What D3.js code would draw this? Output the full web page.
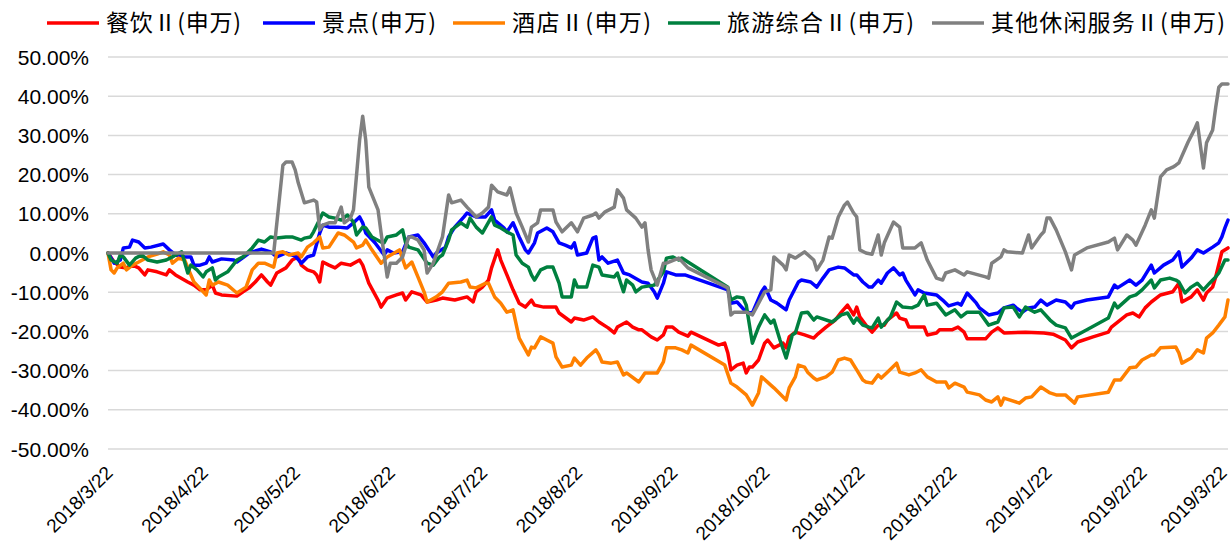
<!DOCTYPE html>
<html><head><meta charset="utf-8">
<script src="https://cdn.jsdelivr.net/npm/d3@7/dist/d3.min.js"></script>
<style>
html,body{margin:0;padding:0;background:#fff;}
svg{display:block;}
</style></head>
<body>
<svg id="chart" width="1231" height="549"></svg>
<script>
// ---------- DATA ----------
const startDate = "2018/3/22"; // day 0; day arrays below are days since this date
const xTickLabels = ["2018/3/22","2018/4/22","2018/5/22","2018/6/22","2018/7/22","2018/8/22","2018/9/22","2018/10/22","2018/11/22","2018/12/22","2019/1/22","2019/2/22","2019/3/22"];
const yTickValues = [50,40,30,20,10,0,-10,-20,-30,-40,-50];
const seriesNames = ["餐饮Ⅱ(申万)","景点(申万)","酒店Ⅱ(申万)","旅游综合Ⅱ(申万)","其他休闲服务Ⅱ(申万)"];
const seriesColors = ["#FF0000","#0000FF","#FF8000","#00803F","#808080"];

// 餐饮Ⅱ
const cateringDays = [0,2,4,6,8,10,12,13,16,19,20,22,26,28,30,32,34,35,37,42,44,46,48,50,52,53,55,58,60,62,63,65,67,68,69,70,72,74,76,79,82,83,85,88,89,91,94,96,97,99,102,104,107,109,113,117,119,120,122,124,125,127,128,130,132,134,136,138,139,142,146,147,151,152,155,158,160,163,165,166,169,171,173,174,177,179,181,182,184,186,189,190,199,201,202,203,205,207,208,209,210,212,214,215,217,220,221,222,224,227,230,231,234,237,239,241,243,244,245,247,249,251,253,254,257,258,260,261,266,267,270,271,275,277,279,280,286,288,290,292,299,305,308,312,314,316,321,326,327,332,334,336,338,340,343,347,349,350,353,355,357,358,360,361,363,365];
const cateringPct = [0,-2.3,-3.6,-3.8,-3.1,-3.8,-5.6,-4.3,-4.8,-5.6,-4.3,-5.6,-7.4,-8.2,-9.4,-9.4,-8.2,-10.2,-10.7,-11.0,-9.9,-8.9,-7.4,-5.6,-7.4,-8.2,-5.1,-3.8,-1.8,-1.0,-3.1,-4.3,-4.8,-5.6,-7.4,-2.3,-3.1,-3.8,-2.6,-3.1,-1.8,-3.1,-7.7,-12.0,-13.8,-11.5,-10.7,-10.2,-12.0,-9.9,-10.7,-12.5,-12.0,-11.5,-12.0,-11.2,-12.5,-9.9,-8.7,-6.9,-3.8,0.8,-1.8,-5.6,-9.4,-12.8,-13.8,-12.0,-13.3,-13.8,-13.8,-15.3,-17.6,-16.6,-17.1,-16.3,-17.6,-19.1,-20.4,-18.9,-17.6,-18.9,-19.6,-19.6,-21.4,-22.2,-20.9,-18.9,-18.9,-20.2,-21.2,-20.2,-23.5,-23.0,-25.5,-29.8,-28.6,-28.1,-30.6,-29.1,-29.1,-27.3,-23.0,-22.2,-24.2,-23.0,-24.2,-21.4,-20.2,-20.9,-21.7,-20.9,-18.9,-17.1,-15.1,-13.3,-15.8,-13.8,-16.3,-18.4,-20.2,-18.4,-18.4,-17.1,-15.3,-16.6,-17.1,-18.9,-18.9,-20.9,-20.4,-19.6,-19.6,-18.9,-20.2,-21.9,-21.9,-20.2,-19.1,-20.4,-20.2,-20.4,-20.7,-22.2,-24.2,-22.7,-21.4,-20.2,-18.9,-15.8,-15.3,-16.3,-14.0,-12.5,-10.7,-9.9,-7.7,-12.5,-11.2,-9.4,-12.0,-10.2,-8.7,-6.1,0.3,1.3];

// 景点
const scenicDays = [0,2,4,5,7,8,10,12,14,18,20,22,25,27,28,30,32,33,34,37,41,42,46,50,53,55,58,61,63,65,67,69,70,72,75,78,80,82,83,84,87,90,91,93,96,98,101,103,106,107,110,111,113,116,117,120,123,125,126,129,130,132,134,136,137,139,140,143,145,147,149,151,152,153,156,158,159,160,161,163,166,168,170,174,176,178,179,181,182,185,188,202,203,205,208,210,213,214,215,216,218,221,222,225,226,229,231,233,235,238,240,243,244,246,248,249,251,252,254,256,258,259,260,263,264,266,270,272,274,277,278,280,283,284,287,290,292,295,296,298,300,302,304,306,309,312,314,315,319,326,328,329,333,335,337,340,341,344,347,349,350,353,355,357,360,362,363,364,365];
const scenicPct = [0,-2.6,-1.8,1.3,1.5,3.3,2.8,1.3,1.5,2.3,0.8,-0.5,-1.0,-1.0,-3.1,-3.1,-2.6,-1.0,-2.3,-1.5,-1.8,-2.3,0,1.0,0.3,-1.0,0,-0.8,-2.6,-1.0,-0.5,5.1,7.1,6.6,6.6,6.4,7.7,9.2,7.7,5.1,2.6,-0.5,0.8,0,0.3,4.1,4.6,2.6,-1.0,0,1.5,4.1,6.6,9.2,10.2,9.2,9.2,11.0,8.4,6.4,5.4,7.7,4.1,0.8,0,2.6,5.1,6.4,5.4,2.6,2.0,1.3,2.6,-0.5,0,3.8,4.1,-1.8,-1.0,-2.6,-1.8,-5.1,-5.6,-7.4,-7.7,-9.9,-11.5,-7.7,-4.8,-5.6,-5.6,-9.4,-12.8,-12.5,-15.1,-15.3,-9.9,-8.7,-10.2,-12.0,-12.8,-14.5,-12.0,-7.4,-6.9,-7.4,-8.7,-6.4,-4.3,-3.6,-3.8,-5.6,-5.6,-7.4,-8.7,-8.7,-6.9,-7.7,-5.1,-3.8,-5.6,-5.1,-6.9,-10.7,-9.4,-10.2,-10.7,-12.0,-13.5,-12.8,-13.3,-10.2,-12.8,-14.0,-15.8,-15.3,-14.0,-13.3,-14.0,-15.1,-14.0,-13.8,-12.0,-13.3,-12.0,-12.5,-14.0,-12.8,-12.0,-11.2,-8.2,-8.9,-6.9,-8.2,-6.9,-3.1,-5.1,-3.1,-1.8,0.3,-3.6,-1.3,0.8,0,1.5,2.6,4.1,6.4,8.4];

// 酒店Ⅱ
const hotelDays = [0,1,2,3,5,6,8,10,13,16,18,20,21,23,25,27,28,29,32,33,34,36,39,42,45,47,49,51,54,55,57,59,62,63,65,67,69,70,72,75,77,80,81,83,84,86,89,91,94,95,97,99,101,103,104,107,109,111,115,117,118,120,123,124,126,128,130,132,134,137,138,139,141,143,145,146,148,151,152,154,156,159,160,161,164,166,168,169,173,175,179,181,182,185,187,189,190,201,203,205,208,210,212,213,216,217,221,222,224,225,227,228,230,231,234,236,238,240,242,244,246,247,249,251,252,254,257,258,261,263,265,267,270,273,274,276,279,280,284,286,288,290,291,292,297,299,301,304,307,309,312,315,316,326,328,330,333,335,337,340,341,343,348,349,350,353,355,357,358,360,362,364,365];
const hotelPct = [0,-4.3,-5.1,-3.8,-2.6,-4.3,-3.1,-2.3,-1.0,-0.3,0.3,-0.5,-2.6,-1.3,-1.8,-5.6,-7.4,-8.2,-10.7,-6.9,-8.2,-7.4,-8.2,-10.2,-8.7,-4.3,-2.6,-2.6,-3.6,0,0.3,-0.5,0,-1.0,1.5,2.6,4.1,1.3,1.5,5.1,4.6,2.8,1.3,2.0,3.3,0.8,-2.6,-1.0,0.3,0.8,-3.8,-2.3,-6.1,-9.9,-12.5,-11.2,-9.9,-7.7,-7.4,-6.9,-8.7,-8.9,-7.7,-7.7,-11.2,-12.8,-15.1,-14.5,-21.7,-26.0,-24.0,-24.2,-21.4,-22.2,-23.0,-26.5,-29.1,-28.6,-26.8,-28.6,-26.8,-24.7,-26.0,-27.8,-28.1,-27.8,-31.1,-30.6,-32.9,-30.6,-30.6,-27.8,-24.2,-24.2,-24.7,-25.5,-23.5,-28.6,-33.2,-34.2,-36.2,-38.8,-35.7,-31.6,-33.7,-34.4,-37.5,-34.4,-31.6,-28.6,-29.1,-30.4,-31.9,-32.4,-31.6,-30.4,-27.3,-26.8,-27.3,-29.8,-32.4,-32.9,-33.2,-31.1,-31.9,-30.4,-28.1,-30.4,-31.1,-30.6,-29.8,-31.6,-32.9,-32.9,-34.4,-33.2,-34.2,-35.5,-36.2,-37.5,-38.0,-36.7,-38.8,-37.0,-38.3,-37.0,-36.7,-34.2,-35.7,-36.2,-36.2,-38.3,-36.7,-35.5,-32.4,-32.4,-29.3,-29.1,-27.3,-26.0,-26.0,-24.2,-24.0,-25.5,-28.1,-26.8,-24.7,-25.5,-21.7,-20.4,-18.4,-16.3,-12.0];

// 旅游综合Ⅱ
const tourismDays = [0,1,3,4,5,7,9,11,13,16,19,21,22,24,26,27,29,31,32,34,35,36,39,42,44,47,49,51,53,55,58,60,63,64,66,67,70,72,74,76,78,80,81,83,84,86,89,90,91,94,96,97,98,101,104,106,108,109,111,112,115,117,118,120,122,125,126,128,130,132,133,135,137,138,139,141,143,145,147,148,151,152,153,156,158,160,161,165,166,168,169,171,172,174,178,181,182,184,186,187,189,201,202,203,205,207,208,210,212,214,216,217,219,221,223,224,226,228,230,231,236,239,241,243,244,246,248,249,251,252,255,257,259,262,264,266,267,270,273,276,278,280,284,287,290,292,295,297,299,302,304,307,309,312,314,319,326,328,329,333,335,337,340,341,343,346,348,349,351,353,355,357,359,361,362,364,365];
const tourismPct = [0,-1.8,-2.6,-0.5,-1.0,-3.1,-1.3,-0.5,-1.8,-2.3,-1.8,-1.0,-0.5,0.3,-5.1,-3.1,-4.3,-6.1,-4.8,-3.8,-6.9,-6.1,-4.8,-1.8,-1.0,1.3,3.3,2.8,4.1,3.8,4.1,4.1,3.3,3.8,4.1,5.4,10.2,9.2,8.9,8.4,9.7,7.9,4.6,6.6,6.4,4.1,2.8,2.6,4.1,4.6,5.9,2.6,1.5,0.8,-2.6,-3.1,-1.0,-0.5,3.3,5.9,7.7,6.6,8.9,6.6,5.1,9.2,7.1,6.4,5.4,4.6,-0.5,-2.6,-3.6,-5.6,-6.9,-4.3,-3.6,-3.6,-7.7,-11.2,-11.2,-6.9,-8.7,-8.7,-3.1,-3.6,-5.6,-6.1,-5.1,-9.9,-6.9,-8.2,-9.9,-8.7,-8.2,-4.8,-1.3,-1.0,-1.8,-1.3,-2.3,-8.2,-8.7,-12.0,-11.2,-11.5,-13.3,-23.0,-18.9,-15.8,-17.9,-17.1,-22.2,-26.8,-20.9,-20.4,-15.3,-15.1,-17.1,-16.3,-17.6,-15.8,-15.3,-17.9,-16.6,-18.4,-18.9,-19.1,-16.6,-18.9,-16.3,-12.5,-13.8,-14.0,-13.3,-10.7,-13.3,-12.8,-15.8,-14.5,-16.3,-15.1,-15.1,-18.4,-17.6,-14.0,-13.8,-16.3,-13.8,-15.1,-14.5,-17.1,-18.4,-19.1,-21.7,-19.6,-16.6,-12.8,-14.0,-11.2,-10.7,-9.4,-6.9,-8.9,-6.9,-6.4,-6.9,-7.4,-10.2,-8.7,-7.7,-9.4,-7.7,-6.1,-5.1,-1.8,-1.8];

// 其他休闲服务Ⅱ
const leisureDays = [0,54,57,58,60,61,62,64,67,68,69,70,72,74,76,77,79,80,82,83,84,85,88,89,91,92,94,96,98,99,101,103,104,106,109,111,112,115,117,120,122,124,125,127,130,131,133,135,137,138,140,141,145,146,148,151,153,155,158,159,160,162,165,166,168,169,172,174,175,176,177,179,181,182,186,189,202,203,204,208,210,214,216,217,220,221,222,224,227,230,231,233,235,236,238,240,241,243,244,245,247,249,251,252,253,256,258,259,263,265,267,270,272,273,276,279,280,286,287,288,291,292,293,298,300,301,304,305,306,307,309,312,314,315,319,326,328,329,332,334,335,338,340,341,343,345,347,348,349,352,354,355,357,358,360,361,362,363,365];
const leisurePct = [0,0,22.4,23.2,23.2,21.2,17.9,12.8,13.5,13.0,5.9,7.1,7.7,7.7,11.7,7.7,8.9,11.0,28.8,34.9,28.8,16.8,11.0,5.1,-6.1,-2.6,-2.6,-1.0,4.1,4.1,3.3,0.8,-5.1,-2.6,4.1,14.8,12.8,13.5,11.7,9.2,10.2,11.7,17.3,15.6,14.8,16.6,10.2,6.6,2.8,6.6,7.7,11.0,11.0,7.9,5.4,7.7,5.4,8.9,9.7,10.2,8.9,10.5,11.7,16.1,14.0,11.0,8.9,6.6,7.7,0.8,-4.3,-8.2,-2.6,-2.6,-1.3,-3.8,-8.9,-15.8,-15.1,-15.1,-15.8,-9.9,-9.4,-1.0,-3.1,-4.3,-0.5,-1.3,0.3,-1.8,-4.3,-1.8,4.1,3.8,9.2,12.2,13.0,10.2,9.2,0.8,0,-0.3,4.6,-0.5,2.6,7.9,6.6,1.3,1.3,2.6,-1.8,-6.4,-6.9,-5.1,-4.3,-5.6,-4.8,-6.1,-6.4,-2.6,-1.0,0.8,0.3,0,4.6,1.3,4.6,5.4,8.9,8.9,5.9,0.3,-4.3,-0.5,1.3,2.8,3.8,0.8,4.6,3.3,2.0,7.1,11.0,8.9,19.4,21.2,21.9,22.4,23.0,28.3,31.4,33.2,21.7,28.1,31.4,37.2,42.3,43.1,43.1];

const seriesDays = [cateringDays, scenicDays, hotelDays, tourismDays, leisureDays];
const seriesPct = [cateringPct, scenicPct, hotelPct, tourismPct, leisurePct];

// ---------- LAYOUT ----------
const svg = d3.select("#chart");
const plot = {left:108, right:1228, top:57, bottom:449};
const parse = d3.timeParse("%Y/%m/%d");
const t0 = parse(startDate);
const x = d3.scaleTime().domain([parse(xTickLabels[0]), parse(xTickLabels[xTickLabels.length-1])]).range([plot.left, plot.right]);
const y = d3.scaleLinear().domain([-50,50]).range([plot.bottom, plot.top]);

// gridlines
svg.append("g").selectAll("line").data(yTickValues).join("line")
  .attr("x1", plot.left).attr("x2", plot.right)
  .attr("y1", d=>y(d)).attr("y2", d=>y(d))
  .attr("stroke", "#d9d9d9").attr("stroke-width", 1.5);

// y labels
svg.append("g").selectAll("text").data(yTickValues).join("text")
  .attr("x", 89).attr("y", d=>y(d)).attr("dy","0.36em")
  .attr("text-anchor","end")
  .attr("font-family","'Liberation Sans', Arial, sans-serif").attr("font-size", 21).attr("fill","#000")
  .text(d=>d.toFixed(2)+"%");

// x labels
svg.append("g").selectAll("text").data(xTickLabels).join("text")
  .attr("transform", d=>`translate(${Math.min(x(parse(d))+6, 1228)},474) rotate(-45)`)
  .attr("text-anchor","end")
  .attr("font-family","'Liberation Sans', Arial, sans-serif").attr("font-size", 19).attr("fill","#000")
  .text(d=>d);

// series lines
const line = d3.line().x(p=>x(p[0])).y(p=>y(p[1])).curve(d3.curveLinear);
seriesNames.forEach((name,i)=>{
  const pts = seriesDays[i].map((d,k)=>[d3.timeDay.offset(t0,d), seriesPct[i][k]]);
  svg.append("path").datum(pts)
    .attr("fill","none").attr("stroke", seriesColors[i]).attr("stroke-width", 3.5)
    .attr("stroke-linejoin","round").attr("stroke-linecap","round")
    .attr("d", line);
});

// legend
const legendX = [47, 263, 453, 668, 932];
const legendTextW = [135, 114, 139, 187, 234];
const legendY = 23;
const lg = svg.append("g");
seriesNames.forEach((name,i)=>{
  lg.append("line").attr("x1", legendX[i]).attr("x2", legendX[i]+52)
    .attr("y1", legendY).attr("y2", legendY)
    .attr("stroke", seriesColors[i]).attr("stroke-width", 3.5);
  lg.append("text").attr("x", legendX[i]+59).attr("y", legendY).attr("dy","0.36em")
    .attr("font-family","'Noto Sans CJK SC', sans-serif").attr("font-size", 23).attr("fill","#000")
    .attr("textLength", legendTextW[i]).attr("lengthAdjust","spacing")
    .text(name);
});
</script>
</body></html>
